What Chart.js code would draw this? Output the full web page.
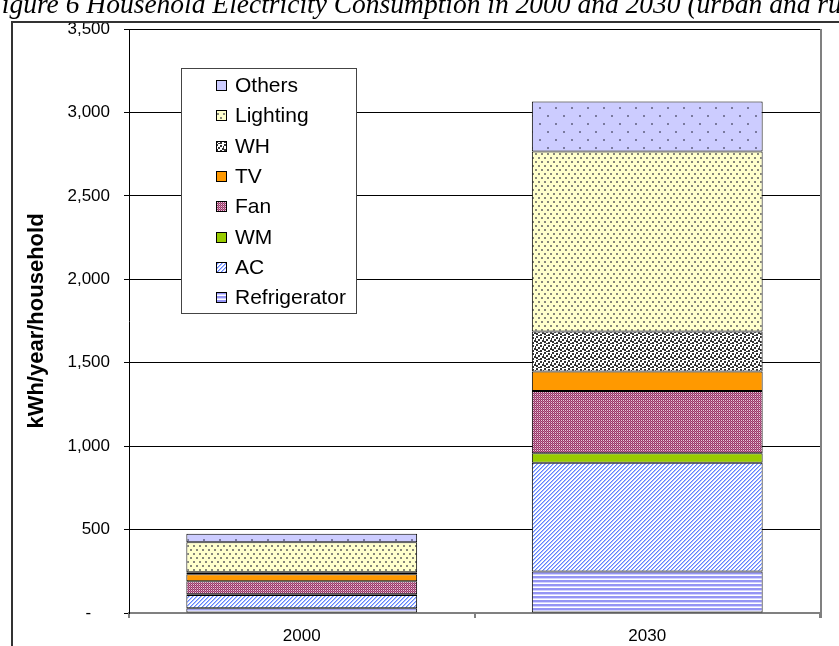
<!DOCTYPE html>
<html>
<head>
<meta charset="utf-8">
<script src="https://cdn.jsdelivr.net/npm/chart.js@4"></script>
<style>
  html, body { margin: 0; padding: 0; background: #fff; overflow: hidden; }
  #wrap { position: relative; width: 839px; height: 646px; overflow: hidden; }
  #chart { position: absolute; left: 0; top: 0; }
  #caption {
    position: absolute; left: -15px; top: -10px; white-space: nowrap;
    font: italic 27.5px/27px "Liberation Serif", "Times New Roman", serif; color: #000;
  }
</style>
</head>
<body>
<div id="wrap">
  <canvas id="chart" width="839" height="646"></canvas>
  <div id="caption">Figure 6 Household Electricity Consumption in 2000 and 2030 (urban and rural)</div>
</div>
<script>
// Household electricity use by end use, kWh/year/household
const categories = ['2000', '2030'];
const refrigerator = [28, 248];
const ac = [80, 653];
const wm = [4, 56];
const fan = [78, 374];
const tv = [42, 116];
const wh = [12, 240];
const lighting = [180, 1079];
const others = [51, 299];
const seriesNames = ['Refrigerator', 'AC', 'WM', 'Fan', 'TV', 'WH', 'Lighting', 'Others'];
const yTickLabels = ['-    ', '500', '1,000', '1,500', '2,000', '2,500', '3,000', '3,500'];
const yAxisTitle = 'kWh/year/household';

const canvas = document.getElementById('chart');
const ctx = canvas.getContext('2d');

// Small repeating fills
function makeTile(w, h, paint) {
  const c = document.createElement('canvas');
  c.width = w; c.height = h;
  const g = c.getContext('2d');
  paint(g);
  return ctx.createPattern(c, 'repeat');
}
function dot(g, color, x, y, w, h) { g.fillStyle = color; g.fillRect(x, y, w || 1, h || 1); }

const fills = {
  Refrigerator: makeTile(4, 4, g => {
    dot(g, '#ffffff', 0, 0, 4, 4);
    dot(g, '#9494f4', 0, 0, 4, 2);
    dot(g, '#d2d2ff', 0, 2, 4, 1);
  }),
  AC: makeTile(4, 4, g => {
    for (let y = 0; y < 4; y++) for (let x = 0; x < 4; x++) {
      const k = (x + y) % 4;
      dot(g, k === 0 ? '#5f80ff' : k === 1 ? '#adc0ff' : '#ffffff', x, y);
    }
  }),
  WM: '#99cc00',
  Fan: makeTile(4, 4, g => {
    for (let y = 0; y < 4; y++) for (let x = 0; x < 4; x++) {
      let c = '#993366';
      if ((x + y) % 2 === 1) c = (y % 2 === 0) ? '#e8cadb' : '#b87296';
      dot(g, c, x, y);
    }
  }),
  TV: '#ff9900',
  WH: makeTile(8, 8, g => {
    dot(g, '#ffffff', 0, 0, 8, 8);
    const sq = [[0, 0], [4, 1], [2, 3], [6, 4], [0, 5], [4, 6], [7, 2], [2, 7]];
    sq.forEach(([x, y]) => dot(g, '#333333', x, y, 2, 2));
  }),
  Lighting: makeTile(6, 8, g => {
    dot(g, '#ffffcc', 0, 0, 6, 8);
    dot(g, '#86867a', 1, 1, 2, 2);
    dot(g, '#86867a', 4, 5, 2, 2);
  }),
  Others: makeTile(16, 16, g => {
    dot(g, '#ccccff', 0, 0, 16, 16);
    dot(g, '#7a7a9e', 3, 3, 2, 2);
    dot(g, '#7a7a9e', 11, 11, 2, 2);
  })
};

const seriesValues = [refrigerator, ac, wm, fan, tv, wh, lighting, others];

const datasets = seriesNames.map((name, i) => ({
  label: name,
  data: seriesValues[i],
  backgroundColor: fills[name],
  borderColor: '#000000',
  borderWidth: 1,
  borderSkipped: false,
  barPercentage: 1,
  categoryPercentage: 0.668
}));

// Legend box drawn inside the plot, listed top series first
const insetLegend = {
  id: 'insetLegend',
  afterDatasetsDraw(chart, args, o) {
    const c = chart.ctx;
    c.save();
    c.fillStyle = '#ffffff';
    c.fillRect(o.x, o.y, o.w, o.h);
    c.strokeStyle = '#444444';
    c.lineWidth = 1;
    c.strokeRect(o.x + 0.5, o.y + 0.5, o.w, o.h);
    const list = chart.data.datasets.slice().reverse();
    c.font = o.font;
    c.textBaseline = 'middle';
    c.textAlign = 'left';
    list.forEach((d, i) => {
      const cy = Math.round(o.y + o.first + i * o.step);
      c.fillStyle = d.backgroundColor;
      c.fillRect(o.swatchX, cy - 5, 10, 10);
      c.strokeStyle = '#000000';
      c.strokeRect(o.swatchX + 0.5, cy - 5 + 0.5, 10, 10);
      c.fillStyle = '#000000';
      c.fillText(d.label, o.textX, cy + 1);
    });
    c.restore();
  }
};

// Outer frame and right edge of the plot
const frame = {
  id: 'frame',
  afterDraw(chart) {
    const c = chart.ctx;
    const a = chart.chartArea;
    c.save();
    c.strokeStyle = '#808080';
    c.lineWidth = 2;
    c.beginPath();
    c.moveTo(a.right + 1, a.top);
    c.lineTo(a.right + 1, a.bottom + 5);
    c.stroke();
    c.strokeStyle = '#333333';
    c.lineWidth = 2;
    c.beginPath();
    c.moveTo(12, 660);
    c.lineTo(12, 22);
    c.lineTo(860, 22);
    c.stroke();
    c.restore();
  }
};

Chart.defaults.font.family = '"Liberation Sans", Arial, sans-serif';
Chart.defaults.color = '#000000';

new Chart(ctx, {
  type: 'bar',
  data: { labels: categories, datasets },
  plugins: [insetLegend, frame],
  options: {
    responsive: false,
    animation: false,
    devicePixelRatio: 1,
    layout: { padding: { left: 0, right: 19, top: 29, bottom: 0 } },
    plugins: {
      legend: { display: false },
      tooltip: { enabled: false },
      insetLegend: {
        x: 181, y: 68, w: 175, h: 245,
        first: 17, step: 30.3,
        swatchX: 216, textX: 235,
        font: '21px "Liberation Sans", Arial, sans-serif'
      }
    },
    scales: {
      x: {
        stacked: true,
        offset: true,
        afterFit(s) { s.height = 33; },
        grid: { offset: true, drawOnChartArea: false, drawTicks: true, tickLength: 5, color: '#808080', lineWidth: 2 },
        border: { display: true, color: '#808080', width: 2 },
        ticks: { font: { size: 17 }, color: '#000', padding: 8, maxRotation: 0 }
      },
      y: {
        stacked: true,
        min: 0,
        max: 3500,
        afterFit(s) { s.width = 129; },
        grid: { color: '#000000', lineWidth: 1, drawTicks: true, tickLength: 5 },
        border: { display: true, color: '#000000', width: 1 },
        ticks: {
          stepSize: 500,
          font: { size: 17 },
          color: '#000',
          padding: 14,
          callback: (v, i) => yTickLabels[i]
        },
        title: {
          display: true,
          text: yAxisTitle,
          font: { size: 22, weight: 'bold' },
          color: '#000',
          padding: { top: 24, bottom: 0 }
        }
      }
    }
  }
});
</script>
</body>
</html>
